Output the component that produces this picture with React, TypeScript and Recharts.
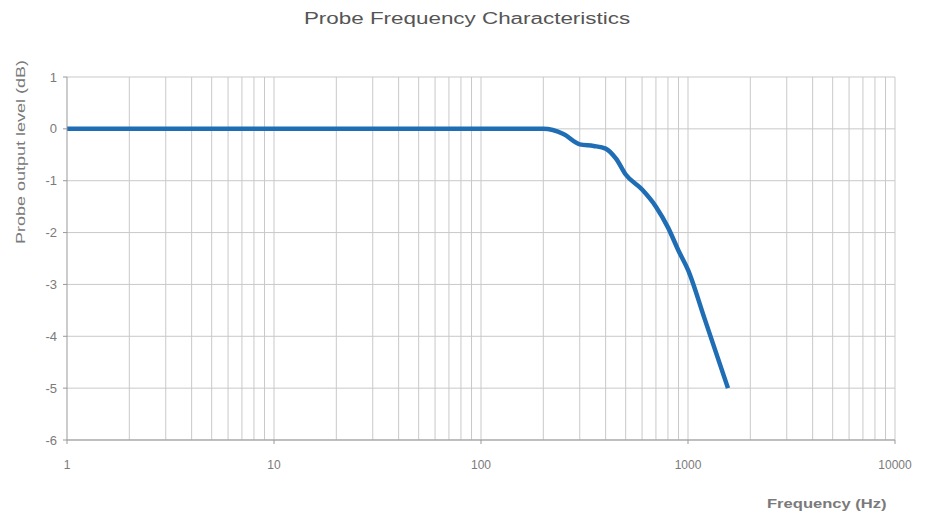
import { LineChart, Line, XAxis, YAxis, CartesianGrid, ReferenceLine } from 'recharts';

// frequency response
const freqs = [1, 2, 5, 10, 20, 50, 100, 150, 200, 250, 300, 350, 400, 450, 500, 600, 700, 800, 900, 1000, 1200, 1560];
const levels = [0, 0, 0, 0, 0, 0, 0, 0, 0, -0.1, -0.3, -0.33, -0.38, -0.58, -0.88, -1.17, -1.5, -1.9, -2.35, -2.72, -3.65, -5.0];

const xTicks = [1, 10, 100, 1000, 10000];
const yTicks = [-6, -5, -4, -3, -2, -1, 0, 1];
const minorSteps = [2, 3, 4, 5, 6, 7, 8, 9];
const decades = [1, 10, 100, 1000];

const data = freqs.map((f, i) => ({ f, level: levels[i] }));
const minorLines = decades.flatMap((d) => minorSteps.map((s) => d * s));

const GRID = '#c9c9c9';
const TEXT = '#7a7a7a';

export default function App() {
  return (
    <div style={{ position: 'absolute', left: 0, top: 0, width: 925, height: 519, background: '#fff', fontFamily: 'Arial, "Liberation Sans", sans-serif' }}>
      <div
        style={{
          position: 'absolute', top: 10, left: 467, fontSize: 16, color: '#555', whiteSpace: 'nowrap',
          transform: 'translateX(-50%) scaleX(1.4)',
        }}
      >
        Probe Frequency Characteristics
      </div>
      <div
        style={{
          position: 'absolute', left: 14, top: 244, transformOrigin: 'left top', transform: 'rotate(-90deg) scaleX(1.5)',
          fontSize: 12, color: TEXT, whiteSpace: 'nowrap',
        }}
      >
        Probe output level (dB)
      </div>
      <div
        style={{
          position: 'absolute', left: 767, top: 497, fontSize: 12, fontWeight: 'bold', color: TEXT,
          whiteSpace: 'nowrap', transformOrigin: 'left top', transform: 'scaleX(1.38)',
        }}
      >
        Frequency (Hz)
      </div>
      <LineChart width={925} height={519} data={data} margin={{ top: 77, right: 30, bottom: 49, left: 37 }}>
        <CartesianGrid stroke={GRID} vertical={false} />
        {minorLines.map((v) => (
          <ReferenceLine key={v} x={v} stroke={GRID} strokeWidth={1} />
        ))}
        {xTicks.slice(1).map((v) => (
          <ReferenceLine key={`m${v}`} x={v} stroke={GRID} strokeWidth={1} />
        ))}
        <XAxis
          dataKey="f"
          type="number"
          scale="log"
          domain={[1, 10000]}
          ticks={xTicks}
          allowDataOverflow
          height={30}
          tick={{ fill: TEXT, fontSize: 12 }}
          tickSize={4}
          tickMargin={16}
          stroke="#999"
        />
        <YAxis
          type="number"
          domain={[-6, 1]}
          ticks={yTicks}
          width={30}
          tick={{ fill: TEXT, fontSize: 13 }}
          tickSize={4}
          tickMargin={6}
          stroke="#999"
        />
        <Line
          type="monotone"
          dataKey="level"
          stroke="#1f6eb5"
          strokeWidth={4.5}
          dot={false}
          isAnimationActive={false}
        />
      </LineChart>
    </div>
  );
}
